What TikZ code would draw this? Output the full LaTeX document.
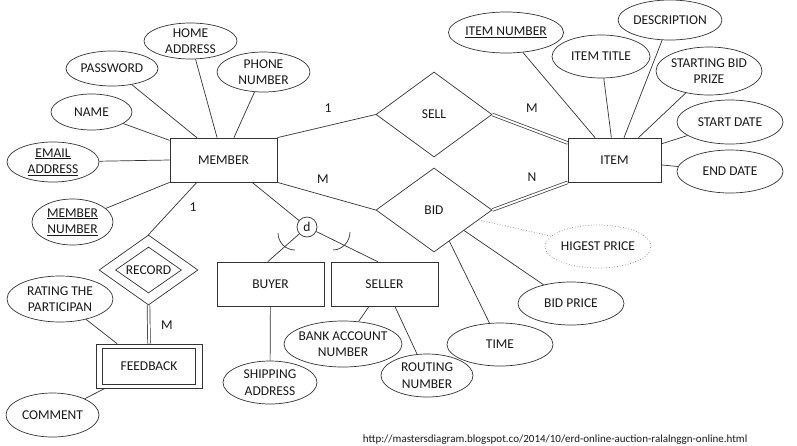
\documentclass[tikz,border=0pt]{standalone}
\usepackage{fontspec}
\setmainfont{Carlito}
\usetikzlibrary{shapes.geometric}

\begin{document}
\begin{tikzpicture}[x=1pt,y=-1pt,line width=0.7pt,draw=black!80,
every node/.style = {font=\fontsize{13.5}{16.5}\selectfont, text=black!90},
ent/.style = {draw, rectangle, minimum width=107, minimum height=44, inner sep=0},
attr/.style = {draw, ellipse, minimum width=#1, minimum height=43, inner sep=0, align=center},
attr/.default = 106,
rel/.style = {draw, diamond, aspect=1.4, minimum width=116, minimum height=85, inner sep=0},
dbl/.style = {double, double distance=2pt}]
\path[use as bounding box, fill=white] (0,0) rectangle (797,445);

% entities
\node[ent] (member) at (223.5,160) {MEMBER};
\node[ent, minimum width=93] (item) at (614.5,160) {ITEM};
\node[ent] (buyer) at (270.5,284) {BUYER};
\node[ent] (seller) at (384.5,284) {SELLER};
\node[ent, minimum width=106] (feedback) at (149,366) {};
\node[ent, minimum width=93, minimum height=36] (feedbackin) at (149,366) {FEEDBACK};

% relations
\node[rel] (sell) at (434,114.5) {SELL};
\node[rel, minimum height=84] (bid) at (434,210) {BID};
\node[rel, minimum width=99, minimum height=70] (record) at (148.5,270) {};
\node[rel, minimum width=66, minimum height=46] (recordin) at (148.5,270) {RECORD};
\node[draw, circle, minimum size=20, inner sep=0] (d) at (307,227) {d};

% member attributes
\node[attr=93, minimum height=36] (homeaddr) at (190.5,41) {HOME\\ADDRESS};
\node[attr=92, minimum height=35] (password) at (112,68.5) {PASSWORD};
\node[attr=93, minimum height=40] (phone) at (263.5,72) {PHONE\\NUMBER};
\node[attr=81, minimum height=36] (name) at (91.5,112) {NAME};
\node[attr=92, minimum height=40] (email) at (53,162) {\underline{EMAIL}\\\underline{ADDRESS}};
\node[attr=81, minimum height=46] (membernum) at (72.5,222) {\underline{MEMBER}\\\underline{NUMBER}};

% item attributes
\node[attr, minimum height=41] (itemnum) at (506,32.5) {\underline{ITEM NUMBER}};
\node[attr=98] (itemtitle) at (601,56.5) {ITEM TITLE};
\node[attr=94, minimum height=40] (descr) at (670,20) {DESCRIPTION};
\node[attr, minimum height=48, inner xsep=-2pt] (startbid) at (709,71) {STARTING BID\\PRIZE};
\node[attr, minimum height=44] (startdate) at (730,122) {START DATE};
\node[attr] (enddate) at (730,171.5) {END DATE};

% bid attributes
\node[attr, draw=gray, dotted] (highest) at (598,246.5) {HIGEST PRICE};
\node[attr] (bidprice) at (571,303.5) {BID PRICE};
\node[attr] (time) at (500,344.5) {TIME};

% buyer, seller, feedback attributes
\node[attr=94] (shipping) at (270,382.5) {SHIPPING\\ADDRESS};
\node[attr=118, minimum height=46, inner xsep=-5pt] (bank) at (343,344) {BANK ACCOUNT\\NUMBER};
\node[attr=92] (routing) at (427,375.5) {ROUTING\\NUMBER};
\node[attr, minimum height=46] (rating) at (60,299) {RATING THE\\PARTICIPAN};
\node[attr=93, minimum height=44] (comment) at (52.5,415) {COMMENT};

% cardinalities
\node (c1) at (328,108) {1};
\node (c2) at (532,108) {M};
\node (c3) at (323,179) {M};
\node (c4) at (532,177) {N};
\node (c5) at (193,207) {1};
\node (c6) at (167,325) {M};

\node[anchor=south west, inner sep=0.5pt, font=\fontsize{11}{12}\selectfont] (url) at (362,445)
  {http://mastersdiagram.blogspot.co/2014/10/erd-online-auction-ralalnggn-online.html};

% connectors
\draw (homeaddr) -- (member.106);
\draw (password) -- (member.140);
\draw (phone) -- (member.65);
\draw (name) -- (member.160);
\draw (email) -- (member.west);
\draw (membernum) -- (member.south west);
\draw (member.north east) -- (sell.west);
\draw (member.south east) -- (bid.west);
\draw (member.-38) -- (d);
\draw (member.-140) -- (record.north);
\draw[dbl] (record.south) -- (feedback.north);
\draw (rating) -- (feedback.145);
\draw (comment) -- (feedback.207);

\draw (d) -- (buyer.97);
\draw (d) -- (seller.107);
\draw (278,233) .. controls (278,242.4) and (285.6,250) .. (295,250);
\draw (350,232) .. controls (350,241.4) and (342.4,250) .. (333,250);
\draw (buyer) -- (shipping);
\draw (seller) -- (bank);
\draw (seller) -- (routing);

\draw[dbl] (sell.east) -- (item.160);
\draw[dbl] (bid.east) -- (item.south west);
\draw (bid) -- (time);
\draw (bid) -- (bidprice);
\draw[gray, dotted] (bid) -- (highest);

\draw (itemnum) -- (item.131);
\draw (itemtitle) -- (item.98);
\draw (descr) -- (item.67);
\draw (startbid) -- (item.43);
\draw (startdate) -- (item.19);
\draw (enddate) -- (item.-6);
\end{tikzpicture}
\end{document}
